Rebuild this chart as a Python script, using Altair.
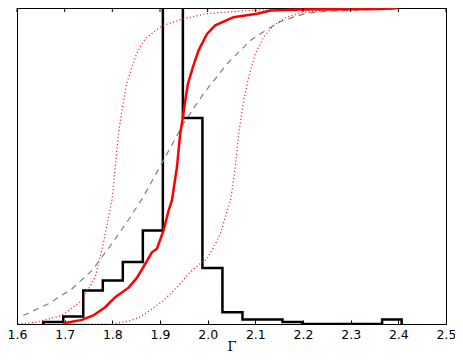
import altair as alt
import pandas as pd

# Histogram (step outline), heights as fraction of the plot height
bin_edges = [1.655, 1.697, 1.739, 1.780, 1.822, 1.864, 1.906, 1.948, 1.989, 2.031,
             2.073, 2.115, 2.157, 2.198, 2.240, 2.282, 2.324, 2.366, 2.407]
bin_heights = [0.006, 0.024, 0.106, 0.138, 0.196, 0.296, 1.30, 0.652, 0.177, 0.037,
               0.014, 0.014, 0.006, 0.0, 0.0, 0.0, 0.0, 0.014]

# Empirical CDF (thick red)
cdf_x = [1.697, 1.701, 1.736, 1.760, 1.785, 1.806, 1.834, 1.851, 1.865, 1.883, 1.8935,
         1.9075, 1.918, 1.925, 1.9355, 1.9424, 1.948, 1.953, 1.9586, 1.969, 1.981, 1.9985,
         2.016, 2.054, 2.1036, 2.1315, 2.20, 2.30, 2.36, 2.394]
cdf_y = [0.0, 0.003, 0.013, 0.027, 0.053, 0.085, 0.115, 0.145, 0.18, 0.227, 0.238,
         0.296, 0.359, 0.391, 0.496, 0.602, 0.654, 0.707, 0.760, 0.813, 0.866, 0.918,
         0.945, 0.971, 0.982, 0.992, 0.995, 0.996, 0.997, 0.999]

# Model CDF (grey dashed)
model_x = [1.613, 1.666, 1.715, 1.757, 1.799, 1.834, 1.862, 1.886, 1.907, 1.949, 1.991,
           2.0405, 2.0895, 2.1245, 2.1525, 2.18, 2.209, 2.251, 2.32, 2.40]
model_y = [0.027, 0.064, 0.111, 0.169, 0.254, 0.33, 0.395, 0.46, 0.517, 0.634, 0.728,
           0.823, 0.897, 0.932, 0.957, 0.971, 0.984, 0.99, 0.994, 0.997]

# Lower envelope (left red dotted)
low_x = [1.602, 1.638, 1.694, 1.736, 1.764, 1.781, 1.799, 1.806, 1.813, 1.82, 1.83,
         1.841, 1.851, 1.862, 1.869, 1.886, 1.9, 1.9145, 1.949, 1.9985, 2.054, 2.11,
         2.25, 2.40]
low_y = [0.0, 0.005, 0.027, 0.074, 0.148, 0.254, 0.391, 0.496, 0.602, 0.676, 0.760,
         0.813, 0.855, 0.887, 0.902, 0.923, 0.939, 0.949, 0.966, 0.982, 0.989, 0.994,
         0.997, 0.998]

# Upper envelope (right red dotted)
high_x = [1.704, 1.799, 1.834, 1.858, 1.879, 1.907, 1.9355, 1.963, 1.988, 1.9985, 2.009,
          2.0265, 2.037, 2.048, 2.058, 2.065, 2.0755, 2.086, 2.1, 2.1175, 2.1385, 2.1666,
          2.2015, 2.25, 2.33, 2.40]
high_y = [0.0, 0.0, 0.009, 0.022, 0.043, 0.074, 0.116, 0.164, 0.196, 0.206, 0.233,
          0.285, 0.338, 0.391, 0.496, 0.602, 0.707, 0.781, 0.855, 0.908, 0.945, 0.972,
          0.986, 0.993, 0.996, 0.998]

x_ticks = [1.6, 1.7, 1.8, 1.9, 2.0, 2.1, 2.2, 2.3, 2.4, 2.5]

hist_x = [bin_edges[0]] + bin_edges[:-1] + [bin_edges[-1]]
hist_y = [0.0] + bin_heights + [0.0]
hist_df = pd.DataFrame({"x": hist_x, "y": hist_y, "i": list(range(len(hist_x)))})

def series(xs, ys):
    return pd.DataFrame({"x": xs, "y": ys, "i": list(range(len(xs)))})

xscale = alt.Scale(domain=[1.6, 2.5], nice=False, zero=False)
yscale = alt.Scale(domain=[0, 1], nice=False)

xaxis = alt.Axis(values=x_ticks, format=".1f", title="Γ", orient="bottom",
                 offset=-4, domain=False, grid=False, tickSize=4, tickColor="black",
                 tickWidth=1, labelPadding=4, labelFont="DejaVu Sans", labelFontSize=12.5,
                 labelColor="black", labelFlush=False, labelOverlap=False,
                 titleFont="DejaVu Serif", titleFontSize=13,
                 titleFontWeight="normal", titleColor="black", titlePadding=0)

def enc(base):
    return base.encode(
        x=alt.X("x:Q", scale=xscale, axis=xaxis),
        y=alt.Y("y:Q", scale=yscale, axis=None),
        order="i:Q",
    )

hist = enc(alt.Chart(hist_df).mark_line(interpolate="step-after", color="black",
                                        strokeWidth=2.5, clip=True))
model = enc(alt.Chart(series(model_x, model_y)).mark_line(color="#808080", strokeWidth=1.2,
                                                           strokeDash=[6, 5], clip=True))
low = enc(alt.Chart(series(low_x, low_y)).mark_line(color="red", strokeWidth=1.2,
                                                     strokeDash=[1, 2.5], clip=True))
high = enc(alt.Chart(series(high_x, high_y)).mark_line(color="red", strokeWidth=1.2,
                                                        strokeDash=[1, 2.5], clip=True))
cdf = enc(alt.Chart(series(cdf_x, cdf_y)).mark_line(color="red", strokeWidth=2.5,
                                                     clip=True))

top_df = pd.DataFrame({"x": x_ticks})
top_ticks = alt.Chart(top_df).mark_rule(color="black", strokeWidth=1).encode(
    x=alt.X("x:Q", scale=xscale, axis=xaxis),
    y=alt.value(0),
    y2=alt.value(4),
)

chart = alt.layer(hist, model, low, high, cdf, top_ticks).properties(
    width=429, height=316,
    autosize=alt.AutoSizeParams(type="none"),
    padding={"left": 9, "top": 0, "right": 9, "bottom": 30},
).configure_view(stroke="black", strokeWidth=1)

chart.save("out.html", embed_options={"renderer": "svg", "actions": False})
